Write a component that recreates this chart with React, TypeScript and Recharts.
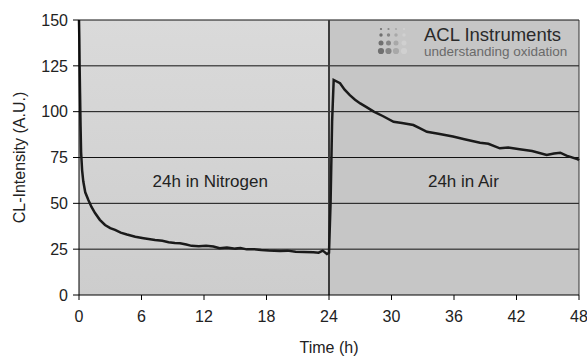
import React from "react";
import {
  LineChart,
  Line,
  XAxis,
  YAxis,
  ReferenceArea,
  ReferenceLine,
  ReferenceDot,
  Label,
} from "recharts";

const timeHours = [
  0, 0.03, 0.06, 0.1, 0.15, 0.2, 0.3, 0.41, 0.6, 0.9, 1.2, 1.54, 2.0, 2.5, 3.0,
  3.46, 4.0, 4.6, 5.4, 6.2, 7.3, 8.0, 8.6, 9.2, 9.7, 10.3, 10.8, 11.5, 12.2,
  12.9, 13.5, 14.2, 15.0, 15.5, 16.1, 16.8, 17.5, 18.2, 19.3, 20.0, 20.8, 21.6,
  22.5, 23.0, 23.4, 23.8, 24.0, 24.15, 24.3, 24.45, 25.06, 25.5, 26, 26.5, 27,
  27.6, 28.3, 29.2, 30.2, 31.0, 32.1, 32.7, 33.4, 34.5, 35.9, 37.0, 38.5, 39.3,
  40.4, 41.2, 42.3, 43.5, 44.9, 45.6, 46.2, 46.8, 47.9, 48,
];

const intensity = [
  150, 140, 125, 110, 92, 78, 68, 62, 56, 51.8, 48, 44.7, 41, 38.2, 36.5, 35.5,
  34, 33, 31.8, 31, 30, 29.6, 28.8, 28.4, 28.2, 27.5, 26.8, 26.6, 26.8, 26.4,
  25.5, 25.9, 25.3, 25.6, 24.9, 25, 24.6, 24.3, 24, 24.2, 23.6, 23.5, 23.3,
  23.1, 24.2, 22.4, 23, 50, 95, 117.3, 115.5, 112, 109, 106.5, 104.5, 102.5,
  100, 97.5, 94.5, 93.8, 92.7, 91, 89, 88, 86.4, 85, 83, 82.5, 80, 80.4, 79.5,
  78.5, 76.4, 77.2, 77.6, 76, 74, 73.5,
];

const xTicks = [0, 6, 12, 18, 24, 30, 36, 42, 48];
const yTicks = [0, 25, 50, 75, 100, 125, 150];
const gridValues = [25, 50, 75, 100, 125, 150];

const phaseLabels = ["24h in Nitrogen", "24h in Air"];
const phaseLabelX = [12.6, 36.9];
const phaseLabelY = [62, 62];

const data = timeHours.map((t, i) => ({ t, v: intensity[i] }));

const FONT = "'Liberation Sans', Arial, sans-serif";

const dotCols = ["#6f6f6f", "#858585", "#a8a8a8", "#d0d0d0"];
const dotRowsY = [11, 17, 25, 33];
const dotRowsR = [1.1, 1.7, 2.5, 3.1];
const dotColsX = [11, 18.5, 26, 34];

export default function App() {
  return (
    <div style={{ position: "absolute", left: 0, top: 0, width: 587, height: 356 }}>
      <LineChart
        width={587}
        height={356}
        data={data}
        margin={{ top: 20, right: 8, bottom: 0, left: 0 }}
      >
        <defs>
          <linearGradient id="leftBg" x1="0" y1="0" x2="0" y2="1">
            <stop offset="0%" stopColor="#dadada" />
            <stop offset="100%" stopColor="#cdcdcd" />
          </linearGradient>
        </defs>
        <ReferenceArea x1={0} x2={24} y1={0} y2={150} fill="url(#leftBg)" fillOpacity={1} stroke="none" />
        <ReferenceArea x1={24} x2={48} y1={0} y2={150} fill="#c6c6c6" fillOpacity={1} stroke="none" />
        {gridValues.map((g) => (
          <ReferenceLine key={`g${g}`} y={g} stroke="#111" strokeWidth={1} />
        ))}
        <XAxis
          dataKey="t"
          type="number"
          domain={[0, 48]}
          ticks={xTicks}
          height={61}
          tickSize={5}
          tickMargin={11}
          axisLine={{ stroke: "#000" }}
          tickLine={{ stroke: "#000" }}
          tick={{ fill: "#222", fontSize: 16, fontFamily: FONT }}
        >
          <Label
            content={(p: any) => {
              const vb = p.viewBox || {};
              return (
                <text
                  x={vb.x + vb.width / 2}
                  y={vb.y + 58}
                  textAnchor="middle"
                  fontSize={16}
                  fontFamily={FONT}
                  fill="#222"
                >
                  Time (h)
                </text>
              );
            }}
          />
        </XAxis>
        <YAxis
          type="number"
          domain={[0, 150]}
          ticks={yTicks}
          width={79}
          tickSize={6}
          tickMargin={5}
          axisLine={{ stroke: "#000" }}
          tickLine={{ stroke: "#000" }}
          tick={{ fill: "#222", fontSize: 16, fontFamily: FONT }}
        >
          <Label
            content={(p: any) => {
              const vb = p.viewBox || {};
              const cx = vb.x + 19;
              const cy = vb.y + vb.height / 2;
              return (
                <text
                  x={cx}
                  y={cy}
                  transform={`rotate(-90 ${cx} ${cy})`}
                  textAnchor="middle"
                  dominantBaseline="central"
                  fontSize={16}
                  fontFamily={FONT}
                  fill="#222"
                >
                  CL-Intensity (A.U.)
                </text>
              );
            }}
          />
        </YAxis>
        <ReferenceLine x={48} stroke="#333" strokeWidth={1} />
        <ReferenceLine x={24} stroke="#3c3c3c" strokeWidth={2} />
        {phaseLabels.map((txt, i) => (
          <ReferenceDot
            key={txt}
            x={phaseLabelX[i]}
            y={phaseLabelY[i]}
            r={0}
            stroke="none"
            fill="none"
            label={{ value: txt, position: "center", fontSize: 17, fontFamily: FONT, fill: "#222" }}
          />
        ))}
        <Line
          type="linear"
          dataKey="v"
          stroke="#1a1a1a"
          strokeWidth={2.5}
          dot={false}
          isAnimationActive={false}
        />
      </LineChart>
      <svg
        width={210}
        height={45}
        style={{ position: "absolute", left: 370, top: 18 }}
      >
        {dotRowsY.map((cy, r) =>
          dotColsX.map((cx, c) => (
            <circle key={`${r}-${c}`} cx={cx} cy={cy} r={dotRowsR[r]} fill={dotCols[c]} />
          ))
        )}
        <text x={54} y={22.5} fontSize={18.5} fontFamily={FONT} fill="#2a2a2a">
          ACL Instruments
        </text>
        <text x={54} y={38} fontSize={13.5} fontFamily={FONT} fill="#6a6a6a">
          understanding oxidation
        </text>
      </svg>
    </div>
  );
}
